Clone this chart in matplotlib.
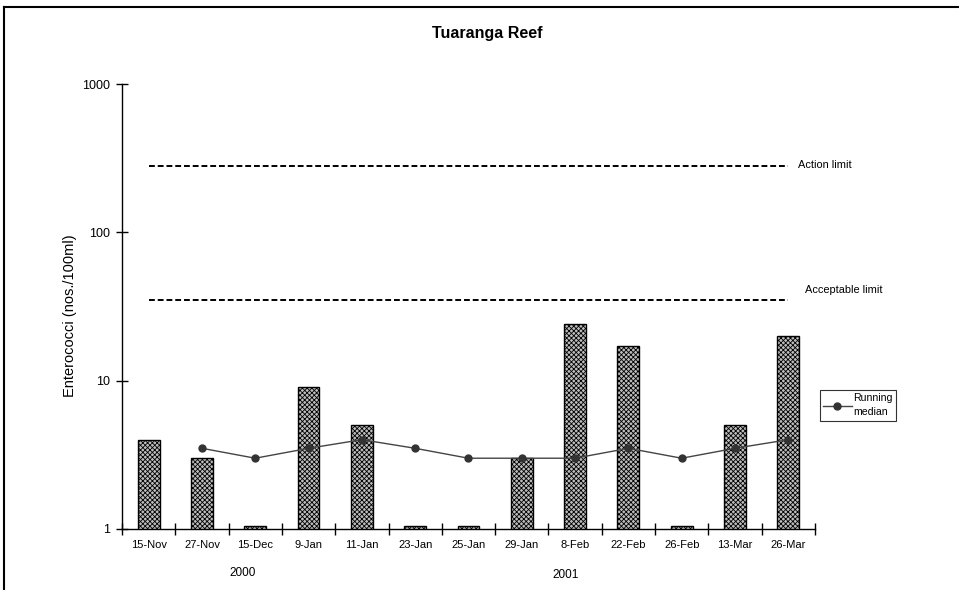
import numpy as np
import matplotlib
matplotlib.use("Agg")
import matplotlib.pyplot as plt
from matplotlib.lines import Line2D
from matplotlib.ticker import FixedLocator, NullLocator, NullFormatter
import matplotlib.transforms as mtransforms

plt.rcParams.update({
    "font.family": ["Liberation Sans", "DejaVu Sans"],
    "font.size": 8,
    "hatch.color": "#959595",
    "hatch.linewidth": 0.6,
})

# ---- data ----------------------------------------------------------------
dates = ["15-Nov", "27-Nov", "15-Dec", "9-Jan", "11-Jan", "23-Jan", "25-Jan",
         "29-Jan", "8-Feb", "22-Feb", "26-Feb", "13-Mar", "26-Mar"]
counts = [4, 3, 1.05, 9, 5, 1.05, 1.05, 3, 24, 17, 1.05, 5, 20]
median = [np.nan, 3.5, 3, 3.5, 4, 3.5, 3, 3, 3, 3.5, 3, 3.5, 4]
action_limit = 280
acceptable_limit = 35
years = ["2000", "2001"]
year_pos = [1.77, 7.83]

x = np.arange(len(dates))

fig = plt.figure(figsize=(9.59, 5.90), dpi=100)
ax = fig.add_axes([0.1272, 0.1034, 0.7226, 0.7542])

ax.bar(x, counts, width=0.41, bottom=0, color="#bdbdbd", edgecolor="black",
       linewidth=1.0, hatch="xxxxxxx", zorder=2)
ax.plot(x, median, color="#444444", lw=1.0, marker="o", ms=5,
        mfc="#333333", mec="#333333", label="Running\nmedian", zorder=3)

ax.plot([x[0], x[-1]], [action_limit] * 2, color="black", lw=1.4,
        ls=(0, (3, 1.5)), zorder=1)
ax.plot([x[0], x[-1]], [acceptable_limit] * 2, color="black", lw=1.4,
        ls=(0, (3, 1.5)), zorder=1)
ax.text(x[-1] + 0.18, action_limit * 1.02, "Action limit", fontsize=7.9,
        va="center", ha="left")
ax.text(x[-1] + 0.31, acceptable_limit * 1.17, "Acceptable limit", fontsize=7.9,
        va="center", ha="left")

ax.set_yscale("log")
ax.set_ylim(1, 1000)
ax.set_xlim(-0.5, len(dates) - 0.5)
ax.yaxis.set_major_locator(FixedLocator([1, 10, 100, 1000]))
ax.yaxis.set_minor_locator(NullLocator())
ax.set_yticklabels(["1", "10", "100", "1000"], fontsize=9)

ax.xaxis.set_major_locator(FixedLocator(np.arange(len(dates) + 1) - 0.5))
ax.xaxis.set_major_formatter(NullFormatter())
ax.xaxis.set_minor_locator(FixedLocator(x))
ax.set_xticklabels(dates, minor=True)
ax.tick_params(axis="x", which="major", direction="inout", length=8, width=1)
ax.tick_params(axis="x", which="minor", length=0, pad=8)
ax.tick_params(axis="y", direction="inout", length=9, width=1, pad=4)

for s in ["top", "right"]:
    ax.spines[s].set_visible(False)
for s in ["left", "bottom"]:
    ax.spines[s].set_linewidth(1.0)

ax.set_ylabel("Enterococci (nos./100ml)", fontsize=10.5)
ax.yaxis.set_label_coords(-0.065, 0.48)
ax.set_title("Tuaranga Reef", fontsize=11.5, weight="bold", x=0.527, y=1.085)

trans = mtransforms.blended_transform_factory(ax.transData, fig.transFigure)
ax.text(year_pos[0], 1 - 573 / 590, years[0], transform=trans, ha="center",
        va="center", fontsize=8.5)
ax.text(year_pos[1], 1 - 575 / 590, years[1], transform=trans, ha="center",
        va="center", fontsize=8.5)

leg = ax.legend(loc="upper left", bbox_to_anchor=(1.002, 0.32), fontsize=7.6,
                frameon=True, fancybox=False, edgecolor="black",
                handlelength=2.7, handletextpad=0.15, borderpad=0.35,
                borderaxespad=0.3)
leg.get_frame().set_linewidth(0.8)
for t in leg.get_texts():
    t.set_linespacing(1.45)

# outer frame (left and top edges)
fig.add_artist(Line2D([4 / 959, 4 / 959], [0, 1 - 7 / 590], color="black", lw=1.5))
fig.add_artist(Line2D([4 / 959, 1], [1 - 7 / 590, 1 - 7 / 590], color="black", lw=1.5))

fig.savefig("out.png", dpi=100)
